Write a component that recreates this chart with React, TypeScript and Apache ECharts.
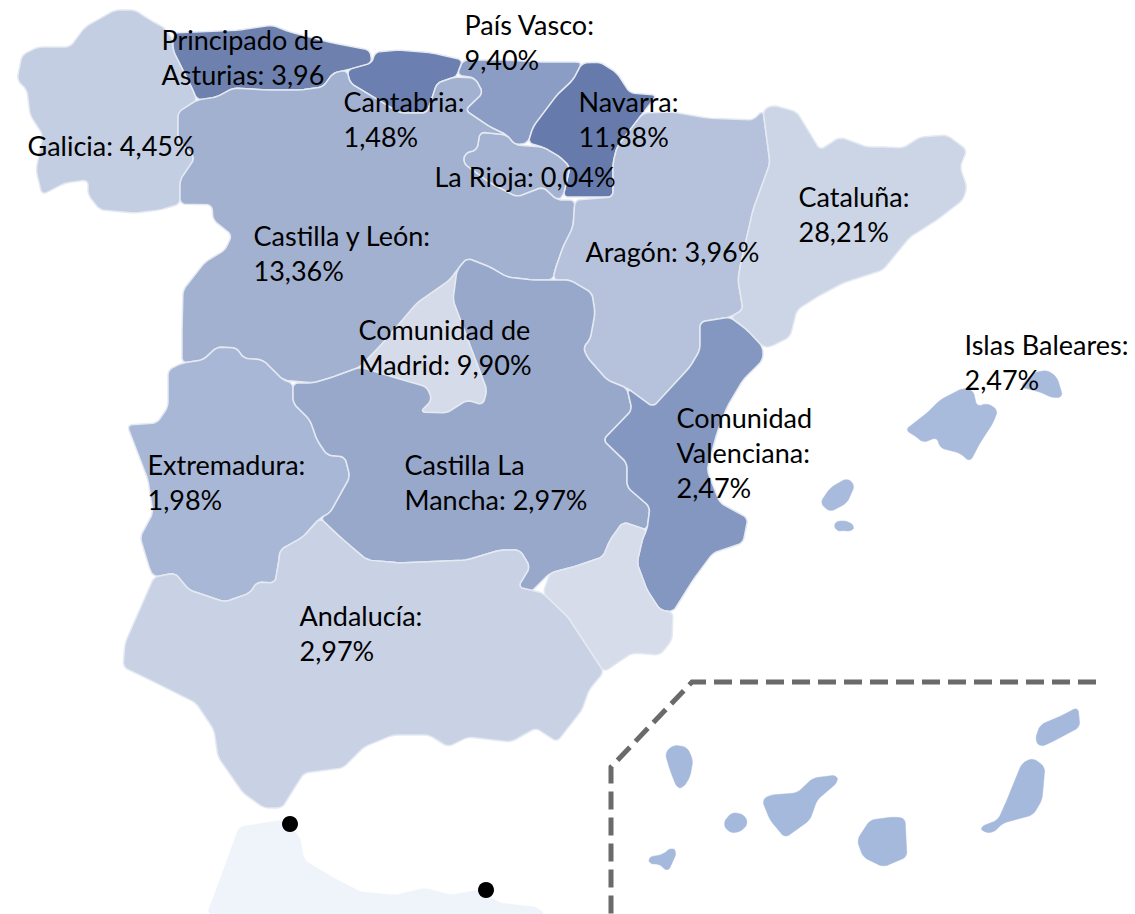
import React, { useEffect, useRef } from "react";
import * as echarts from "echarts";

const W = 1135;
const H = 914;

// Region values (% as printed on the map)
const regionNames = ["Galicia", "Principado de Asturias", "Cantabria", "País Vasco", "Navarra", "La Rioja", "Castilla y León", "Aragón", "Cataluña", "Comunidad de Madrid", "Extremadura", "Castilla La Mancha", "Comunidad Valenciana", "Andalucía", "Islas Baleares"];
const regionValues = [4.45, 3.96, 1.48, 9.4, 11.88, 0.04, 13.36, 3.96, 28.21, 9.9, 1.98, 2.97, 2.47, 2.97, 2.47];
const labelTexts = ["Galicia: 4,45%", "Principado de\nAsturias: 3,96", "Cantabria:\n1,48%", "País Vasco:\n9,40%", "Navarra:\n11,88%", "La Rioja: 0,04%", "Castilla y León:\n13,36%", "Aragón: 3,96%", "Cataluña:\n28,21%", "Comunidad de\nMadrid: 9,90%", "Extremadura:\n1,98%", "Castilla La\nMancha: 2,97%", "Comunidad\nValenciana:\n2,47%", "Andalucía:\n2,97%", "Islas Baleares:\n2,47%"];
const labelAnchors = [[28, 128], [162, 22], [344, 84], [465, 7], [579, 84], [435, 159], [254, 218], [586, 234], [799, 179], [359, 312], [148, 447], [405, 447], [677, 400], [300, 598], [965, 327]];

// Region outlines (x, y in picture pixels)
const outlines: Record<string, number[][][]> = {
  Galicia: [[[17,80],[22,55],[38,47],[70,47],[85,27],[115,10],[135,10],[150,20],[165,28],[173,40],[173,50],[193,90],[197,100],[192,106],[178,112],[178,140],[195,158],[180,180],[180,204],[160,210],[135,213],[100,210],[88,195],[88,180],[65,183],[42,195],[36,170],[38,160],[43,135],[30,115],[27,90]]],
  "Principado de Asturias": [[[173,33],[240,30],[272,25],[290,32],[333,43],[370,50],[372,63],[347,70],[333,73],[323,87],[300,90],[267,90],[233,88],[217,97],[197,100],[193,90],[173,50]]],
  Cantabria: [[[375,52],[400,50],[433,53],[463,60],[457,75],[455,77],[437,83],[427,113],[400,113],[350,83],[347,70],[372,63]]],
  "País Vasco": [[[463,60],[500,60],[543,62],[577,62],[582,63],[573,80],[557,95],[533,127],[528,143],[515,145],[507,135],[490,127],[465,110],[483,93],[475,78],[457,75]]],
  Navarra: [[[582,63],[600,62],[617,73],[630,93],[657,95],[643,113],[617,147],[613,163],[613,197],[563,197],[570,167],[560,157],[543,147],[528,143],[533,127],[557,95],[573,80]]],
  "La Rioja": [[[480,132],[507,135],[515,145],[543,147],[560,157],[570,167],[563,197],[557,200],[543,187],[517,197],[490,183],[463,163],[465,153],[477,150]]],
  "Castilla y León": [[[197,100],[217,97],[233,88],[267,90],[300,90],[323,87],[333,73],[347,70],[350,83],[400,113],[427,113],[437,83],[455,77],[475,78],[483,93],[465,110],[490,127],[507,135],[480,132],[477,150],[465,153],[463,163],[490,183],[517,197],[543,187],[557,200],[575,200],[573,227],[563,247],[555,270],[553,280],[533,280],[507,277],[490,267],[467,258],[457,270],[450,280],[417,303],[383,343],[360,367],[333,377],[313,383],[283,380],[263,360],[243,358],[237,348],[217,347],[203,360],[182,363],[182,330],[183,290],[205,262],[225,250],[232,235],[213,220],[212,205],[180,204],[180,180],[195,158],[178,140],[178,112]]],
  Aragón: [[[643,113],[673,112],[707,118],[753,120],[763,110],[770,163],[753,210],[740,267],[738,280],[743,310],[730,317],[700,322],[700,350],[690,367],[653,407],[627,388],[607,380],[587,357],[583,347],[590,340],[595,313],[592,293],[570,280],[553,280],[555,270],[563,247],[573,227],[575,200],[613,197],[613,163],[617,147]]],
  Cataluña: [[[763,110],[773,105],[797,112],[820,150],[840,137],[867,147],[887,147],[903,148],[920,137],[947,135],[967,150],[960,167],[967,187],[963,200],[937,220],[910,237],[883,270],[843,283],[817,297],[797,310],[790,337],[770,347],[763,347],[747,330],[730,317],[743,310],[738,280],[740,267],[753,210],[770,163]]],
  "Comunidad de Madrid": [[[457,270],[450,280],[417,303],[383,343],[360,367],[393,377],[427,387],[432,400],[420,412],[447,413],[467,400],[483,405],[487,390],[467,337],[453,300]]],
  Extremadura: [[[182,363],[203,360],[217,347],[237,348],[243,358],[263,360],[283,380],[293,383],[293,403],[310,420],[317,440],[327,455],[345,457],[350,477],[330,513],[320,518],[303,537],[280,550],[279,560],[275,583],[257,582],[250,593],[225,602],[189,590],[175,573],[154,577],[150,570],[140,537],[153,513],[148,480],[127,425],[157,423],[168,407],[168,370]]],
  "Castilla La Mancha": [[[457,270],[467,258],[490,267],[507,277],[533,280],[553,280],[570,280],[592,293],[595,313],[590,340],[583,347],[587,357],[607,380],[627,388],[632,410],[603,440],[627,463],[627,487],[650,507],[647,530],[623,522],[610,540],[603,557],[573,567],[550,573],[530,593],[518,587],[530,567],[520,550],[500,550],[467,560],[400,563],[367,560],[340,537],[320,518],[330,513],[350,477],[345,457],[327,455],[317,440],[310,420],[293,403],[293,383],[313,383],[333,377],[360,367],[393,377],[427,387],[432,400],[420,412],[447,413],[467,400],[483,405],[487,390],[467,337],[453,300]]],
  "Comunidad Valenciana": [[[700,322],[730,317],[747,330],[763,347],[763,360],[743,380],[727,407],[717,433],[707,470],[720,503],[748,518],[743,543],[713,553],[693,580],[673,612],[660,610],[647,590],[637,563],[643,537],[647,530],[650,507],[627,487],[627,463],[603,440],[632,410],[627,388],[653,407],[690,367],[700,350]]],
  Andalucía: [[[154,577],[125,643],[123,667],[154,682],[196,703],[214,730],[218,757],[243,793],[264,808],[282,808],[304,773],[343,768],[364,747],[393,735],[429,735],[448,747],[468,737],[511,742],[536,728],[557,742],[582,710],[589,690],[604,672],[568,617],[543,593],[518,587],[530,567],[520,550],[500,550],[467,560],[400,563],[367,560],[340,537],[320,518],[303,537],[280,550],[279,560],[275,583],[257,582],[250,593],[225,602],[189,590],[175,573]]],
  "Región de Murcia": [[[543,593],[550,573],[573,567],[603,557],[610,540],[623,522],[647,530],[643,537],[637,563],[647,590],[660,610],[673,612],[672,640],[660,655],[632,653],[604,672],[568,617]]],
  "Islas Baleares": [
    [[905,430],[927,413],[940,400],[963,388],[973,390],[977,407],[987,403],[998,410],[993,423],[980,443],[970,462],[960,453],[940,448],[937,437],[923,443],[917,437]],
    [[1020,387],[1033,373],[1047,370],[1057,377],[1063,397],[1053,398],[1040,392]],
    [[820,503],[830,488],[847,478],[855,485],[847,503],[830,512]],
    [[833,523],[843,520],[855,525],[852,532],[843,530],[837,532]],
  ],
  "Islas Canarias": [
    [[665,753],[673,745],[687,747],[693,760],[690,777],[683,788],[677,788],[670,770]],
    [[723,823],[732,812],[745,815],[748,825],[738,833],[728,832]],
    [[648,857],[662,855],[672,847],[677,852],[668,872],[658,863],[650,865]],
    [[762,800],[770,795],[797,793],[813,778],[837,775],[838,782],[817,800],[810,820],[785,838],[770,820]],
    [[857,840],[870,820],[893,817],[905,818],[907,857],[883,867],[863,857]],
    [[980,827],[998,820],[1007,800],[1022,763],[1033,758],[1045,767],[1042,800],[1033,815],[1003,823],[993,833],[983,832]],
    [[1035,740],[1040,725],[1063,715],[1078,707],[1080,727],[1050,743],[1040,747]],
  ],
  Marruecos: [[[239,827],[282,820],[300,837],[304,860],[332,877],[361,892],[396,895],[425,888],[450,895],[479,890],[500,903],[536,907],[546,914],[207,914],[221,877]]],
};

const regionFills: Record<string, string> = {
  Galicia: "#c4cee2",
  "Principado de Asturias": "#6e81ae",
  Cantabria: "#6b80b0",
  "País Vasco": "#8b9dc5",
  Navarra: "#667bac",
  "La Rioja": "#a5b3d2",
  "Castilla y León": "#a3b1d1",
  Aragón: "#b6c2dc",
  Cataluña: "#ccd5e6",
  "Comunidad de Madrid": "#d5dbe9",
  Extremadura: "#a8b7d6",
  "Castilla La Mancha": "#98a8cb",
  "Comunidad Valenciana": "#8497c0",
  Andalucía: "#c9d1e5",
  "Región de Murcia": "#d6dcea",
  "Islas Baleares": "#a9bbdc",
  "Islas Canarias": "#a5b9dc",
  Marruecos: "#eff3fa",
};

const cityPoints = [[290, 824], [486, 890]];
const insetFrame = [[1096, 682], [692, 682], [611, 767], [611, 914]];

const toGeo = (p: number[]) => [p[0], -p[1]];

// Rounds the corners of a traced outline, so that coasts look soft
function roundCorners(ring: number[][], cut: number) {
  const out: number[][] = [];
  const n = ring.length;
  for (let i = 0; i < n; i++) {
    const a = ring[i];
    const b = ring[(i + 1) % n];
    const len = Math.hypot(b[0] - a[0], b[1] - a[1]) || 1;
    const t = Math.min(cut / len, 0.4);
    out.push([a[0] + (b[0] - a[0]) * t, a[1] + (b[1] - a[1]) * t]);
    out.push([b[0] - (b[0] - a[0]) * t, b[1] - (b[1] - a[1]) * t]);
  }
  return out;
}

const geoJson = {
  type: "FeatureCollection",
  features: Object.keys(outlines).map((name) => ({
    type: "Feature",
    properties: { name },
    geometry: {
      type: "MultiPolygon",
      coordinates: outlines[name].map((ring) => {
        const smooth = roundCorners(roundCorners(ring, 3), 1.2);
        const r = smooth.map(toGeo);
        return [[...r, r[0]]];
      }),
    },
  })),
};

export default function App() {
  const ref = useRef<HTMLDivElement>(null);
  useEffect(() => {
    echarts.registerMap("espana", geoJson as any);
    const chart = echarts.init(ref.current!, null, { renderer: "svg" });
    const isMainland = (n: string) => n !== "Marruecos" && n !== "Islas Canarias" && n !== "Islas Baleares";
    chart.setOption({
      animation: false,
      backgroundColor: "#ffffff",
      geo: {
        map: "espana",
        roam: false,
        silent: true,
        aspectScale: 1,
        boundingCoords: [[0, 0], [W, -H]],
        left: 0,
        top: 0,
        width: W,
        height: H,
        label: { show: false },
        itemStyle: { areaColor: "#c4cee2", borderColor: "#e4e9f2", borderWidth: 1.5 },
        regions: Object.keys(regionFills).map((name) => ({
          name,
          itemStyle: {
            areaColor: regionFills[name],
            borderColor: isMainland(name) ? "#e4e9f2" : regionFills[name],
            borderWidth: isMainland(name) ? 1.5 : 0.5,
          },
        })),
      },
      graphic: [
        {
          type: "polyline",
          silent: true,
          shape: { points: insetFrame },
          style: { stroke: "#6a6a6a", lineWidth: 5, lineDash: [18, 8], fill: "none" },
        },
      ],
      series: [
        {
          type: "map",
          geoIndex: 0,
          silent: true,
          data: regionNames.map((name, i) => ({ name, value: regionValues[i] })),
        },
        {
          type: "scatter",
          coordinateSystem: "geo",
          silent: true,
          symbolSize: 16,
          itemStyle: { color: "#000000", opacity: 1 },
          data: cityPoints.map(toGeo),
          z: 5,
        },
        {
          type: "scatter",
          coordinateSystem: "geo",
          silent: true,
          symbolSize: 1,
          itemStyle: { color: "rgba(0,0,0,0)", opacity: 1 },
          z: 6,
          labelLayout: { hideOverlap: false },
          label: {
            show: true,
            position: [0, 0],
            align: "left",
            verticalAlign: "top",
            color: "#000000",
            opacity: 1,
            fontFamily: "Lato",
            fontSize: 27,
            lineHeight: 35,
            formatter: (p: any) => labelTexts[p.dataIndex],
          },
          data: labelAnchors.map((a, i) => ({ name: regionNames[i], value: [...toGeo(a), regionValues[i]] })),
        },
      ],
    });
    return () => chart.dispose();
  }, []);
  return <div ref={ref} style={{ position: "absolute", left: 0, top: 0, width: W, height: H }} />;
}
